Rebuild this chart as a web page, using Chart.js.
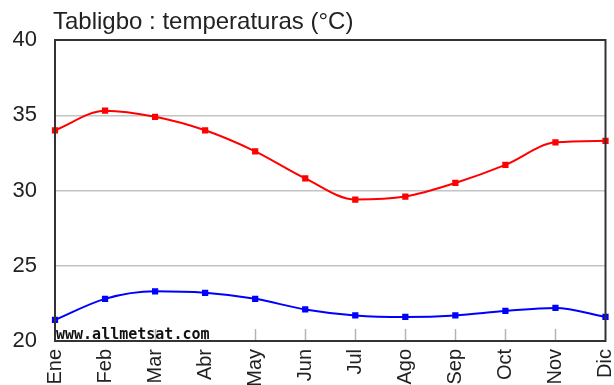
<!DOCTYPE html>
<html lang="es">
<head>
    <meta charset="UTF-8">
    <title>Tabligbo : temperaturas</title>
    <style>
        html, body { margin: 0; padding: 0; background: #ffffff; }
        #wrap { position: relative; width: 614px; height: 385px; }
    </style>
    <script src="https://cdn.jsdelivr.net/npm/chart.js"></script>
</head>
<body>
    <div id="wrap"><canvas id="temp-chart" width="614" height="385"></canvas></div>
    <script>
        // Data
        const months = ['Ene', 'Feb', 'Mar', 'Abr', 'May', 'Jun', 'Jul', 'Ago', 'Sep', 'Oct', 'Nov', 'Dic'];
        const tempMax = [34.0, 35.3, 34.9, 34.0, 32.6, 30.8, 29.4, 29.6, 30.5, 31.7, 33.2, 33.3];
        const tempMin = [21.4, 22.8, 23.3, 23.2, 22.8, 22.1, 21.7, 21.6, 21.7, 22.0, 22.2, 21.6];
        const yTicks = [20, 25, 30, 35, 40];

        const chartTitle = 'Tabligbo : temperaturas (°C)';
        const watermark = 'www.allmetsat.com';

        // frame, small bottom ticks, title and watermark
        const decorations = {
            id: 'decorations',
            beforeDatasetsDraw(chart) {
                const ctx = chart.ctx;
                const area = chart.chartArea;
                const x = chart.scales.x;
                ctx.save();
                ctx.strokeStyle = '#b4b4b4';
                ctx.lineWidth = 1.5;
                for (let i = 1; i < months.length - 1; i++) {
                    const px = Math.round(x.getPixelForTick(i)) + 0.5;
                    ctx.beginPath();
                    ctx.moveTo(px, area.bottom);
                    ctx.lineTo(px, area.bottom - 12);
                    ctx.stroke();
                }
                ctx.font = 'bold 15px "DejaVu Sans Mono"';
                ctx.fillStyle = '#111111';
                ctx.textBaseline = 'alphabetic';
                ctx.textAlign = 'left';
                ctx.fillText(watermark, area.left + 1, area.bottom - 2);
                ctx.restore();
            },
            afterDraw(chart) {
                const ctx = chart.ctx;
                const area = chart.chartArea;
                ctx.save();
                ctx.strokeStyle = '#333333';
                ctx.lineWidth = 2;
                ctx.strokeRect(area.left, area.top, area.right - area.left, area.bottom - area.top);
                ctx.font = '24px "Liberation Sans"';
                ctx.fillStyle = '#222222';
                ctx.textBaseline = 'middle';
                ctx.textAlign = 'left';
                ctx.fillText(chartTitle, 53, 22);
                ctx.restore();
            }
        };

        new Chart(document.getElementById('temp-chart'), {
            type: 'line',
            data: {
                labels: months,
                datasets: [{
                    label: 'Máxima',
                    data: tempMax,
                    borderColor: '#ff0000',
                    backgroundColor: '#ff0000',
                    borderWidth: 2,
                    pointStyle: 'rect',
                    pointRadius: 3,
                    cubicInterpolationMode: 'monotone',
                    fill: false
                }, {
                    label: 'Mínima',
                    data: tempMin,
                    borderColor: '#0000ff',
                    backgroundColor: '#0000ff',
                    borderWidth: 2,
                    pointStyle: 'rect',
                    pointRadius: 3,
                    cubicInterpolationMode: 'monotone',
                    fill: false
                }]
            },
            options: {
                responsive: false,
                animation: false,
                layout: { padding: { top: 40, right: 8.5, left: 0, bottom: 0 } },
                plugins: {
                    legend: { display: false },
                    tooltip: { enabled: false },
                    title: { display: false }
                },
                scales: {
                    x: {
                        offset: false,
                        grid: { display: false, drawTicks: false },
                        border: { display: false },
                        ticks: {
                            minRotation: 90,
                            maxRotation: 90,
                            autoSkip: false,
                            padding: 8,
                            color: '#222222',
                            font: { family: 'Liberation Sans', size: 20 }
                        },
                        afterFit(scale) {
                            scale.height = 44;
                            scale.paddingLeft = 0;
                            scale.paddingRight = 0;
                        }
                    },
                    y: {
                        min: 20,
                        max: 40,
                        afterBuildTicks(scale) { scale.ticks = yTicks.map(v => ({ value: v })); },
                        grid: { color: '#c4c4c4', lineWidth: 1.5, drawTicks: false },
                        border: { display: false },
                        ticks: {
                            padding: 18,
                            color: '#222222',
                            font: { family: 'Liberation Sans', size: 22 }
                        },
                        afterFit(scale) { scale.width = 55; }
                    }
                }
            },
            plugins: [decorations]
        });
    </script>
</body>
</html>
